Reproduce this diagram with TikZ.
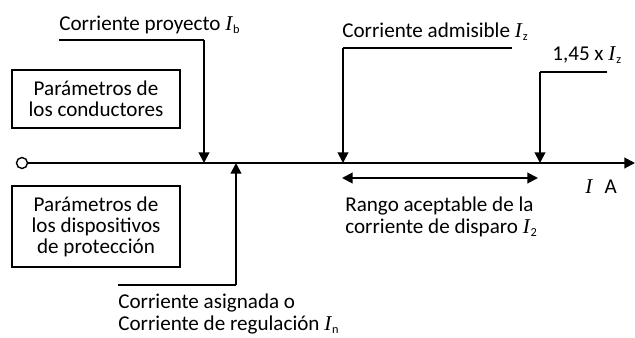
\documentclass[tikz,border=0pt]{standalone}
\usepackage{fontspec}
\setmainfont{Carlito}
\newfontfamily\tnr{Liberation Serif}
\usetikzlibrary{positioning,arrows.meta}
\tikzset{>={Triangle[width=6pt,length=6pt]}}
\tikzset{caja/.style={draw,line width=1.3pt,minimum width=3.36cm,align=center,inner sep=0pt},
  guia/.style={line width=0.7pt},
  flecha/.style={->,line width=1.1pt},
  txt/.style={inner sep=0pt,align=left}}
\newcommand{\Icor}[1]{{\tnr\itshape I}\kern0.5pt\raisebox{-2.2pt}{\fontsize{7pt}{7pt}\selectfont #1}}

\begin{document}
\begin{tikzpicture}[font=\fontsize{12pt}{12pt}\selectfont]
\useasboundingbox (0,0) rectangle (12.7,6.74);
% eje de corrientes
\node[circle,draw,line width=0.8pt,inner sep=0pt,minimum size=0.22cm] (O) at (0.44,3.48) {};
\coordinate (E) at (12.7,3.48);
\draw[flecha] (O) -- (E);
\node[txt,anchor=base west] (IA) at (11.7,2.88) {{\tnr\itshape I}\hspace{7pt}A};
% cajas
\node[caja,minimum height=1.16cm] (cond) at (1.92,4.76) {Parámetros de\\los conductores};
\node[caja,minimum height=1.62cm] (prot) at (1.92,2.21) {Parámetros de\\los dispositivos\\de protección};
% Ib
\coordinate (Ib) at (4.08,3.48);
\coordinate (Ibk) at (4.08,5.94);
\coordinate (Ibe) at (1.18,5.94);
\draw[guia] (Ibe) -- (Ibk);
\draw[flecha] (Ibk) -- (Ib);
\node[txt,anchor=base west] (lIb) at (1.18,6.14) {Corriente proyecto \Icor{b}};
% In
\coordinate (In) at (4.72,3.48);
\coordinate (Ink) at (4.72,1.04);
\coordinate (Ine) at (2.36,1.04);
\draw[guia] (Ine) -- (Ink);
\draw[flecha] (Ink) -- (In);
\node[txt,anchor=base west] (lIn) at (2.36,0.14) {Corriente asignada o\\Corriente de regulación \Icor{n}};
% Iz
\coordinate (Iz) at (6.86,3.48);
\coordinate (Izk) at (6.86,5.78);
\coordinate (Ize) at (10.24,5.78);
\draw[guia] (Ize) -- (Izk);
\draw[flecha] (Izk) -- (Iz);
\node[txt,anchor=base west] (lIz) at (6.84,6.0) {Corriente admisible \Icor{z}};
% 1,45 Iz
\coordinate (I2) at (10.8,3.48);
\coordinate (I2k) at (10.8,5.3);
\coordinate (I2e) at (12.14,5.3);
\draw[guia] (I2e) -- (I2k);
\draw[flecha] (I2k) -- (I2);
\node[txt,anchor=base west] (lI2) at (11.04,5.54) {1,45 x \Icor{z}};
% rango de I2
\coordinate (Ra) at (6.84,3.18);
\coordinate (Rb) at (10.76,3.18);
\draw[<->,line width=1.1pt] (Ra) -- (Rb);
\node[txt,anchor=base west] (lR) at (6.9,2.08) {Rango aceptable de la\\corriente de disparo \Icor{2}};
\end{tikzpicture}
\end{document}
